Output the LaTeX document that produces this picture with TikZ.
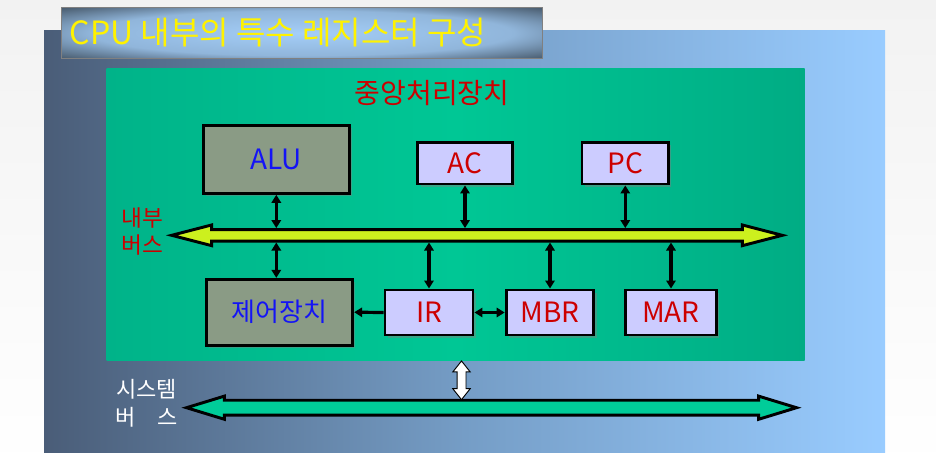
\documentclass[tikz,border=0pt]{standalone}
\usepackage{fontspec}
\setmainfont{Noto Sans CJK KR}
\usetikzlibrary{arrows.meta,shapes.arrows,shadows}
\definecolor{pagegray}{HTML}{F2F2F2}
\definecolor{backdark}{HTML}{4A5D78}
\definecolor{backmid}{HTML}{759DC6}
\definecolor{backlight}{HTML}{99CCFF}
\definecolor{glow}{HTML}{A4CEF8}
\definecolor{cpuleft}{HTML}{00B389}
\definecolor{cpumid}{HTML}{00C795}
\definecolor{cpuright}{HTML}{00AC84}
\definecolor{unitgray}{HTML}{8A9B85}
\definecolor{reglav}{HTML}{CCCCFF}
\definecolor{regred}{HTML}{CC0000}
\definecolor{unitblue}{HTML}{1414F5}
\definecolor{buslime}{HTML}{CCF01E}
\definecolor{busgreen}{HTML}{00CC99}
\pgfdeclareradialshading{titleglow}{\pgfpoint{0bp}{0bp}}{color(0bp)=(glow); color(22bp)=(glow!88!black); color(38bp)=(glow!35!black); color(47bp)=(black); color(50bp)=(black)}

\begin{document}
\begin{tikzpicture}[x=0.75pt,y=-0.75pt,>={Triangle[length=6pt,width=7pt]}]
\tikzstyle{unit}=[draw=black, line width=2.2pt, fill=unitgray, text=unitblue, inner sep=0,
  drop shadow={opacity=0.45, shadow xshift=2pt, shadow yshift=-2pt}]
\tikzstyle{reg}=[draw=black, line width=2.2pt, fill=reglav, text=regred, inner sep=0,
  font=\fontsize{21}{24}\selectfont,
  drop shadow={opacity=0.45, shadow xshift=2pt, shadow yshift=-2pt}]
\tikzstyle{bus}=[double arrow, draw=black, line width=2.2pt, inner sep=0, minimum width=0pt,
  text depth=0pt]
\tikzstyle{link}=[line width=2.4pt]

% Page
\fill [top color=pagegray, bottom color=white] (0,0) rectangle (936,469);
\useasboundingbox (0,0) rectangle (936,469);

% Backdrop
\node (back) at (464.5,241.85) [minimum width=630.75pt, minimum height=316.3pt, inner sep=0,
  left color=backdark, right color=backlight, middle color=backmid] {};

% Title
\node (title) at (302.2,33) [minimum width=360.75pt, minimum height=38.5pt, inner sep=0,
  shading=titleglow, draw=gray, line width=0.8pt] {};
\node (titletext) at (278,33) [text=yellow, font=\fontsize{24}{28}\selectfont] {CPU 내부의 특수 레지스터 구성};

% CPU
\node (cpu) at (455.7,214.85) [minimum width=523.5pt, minimum height=218.8pt, inner sep=0,
  left color=cpuleft, right color=cpuright, middle color=cpumid] {};
\node (cpuname) at (432,93) [text=regred, font=\fontsize{21}{24}\selectfont] {중앙처리장치};

% Units
\node (alu) at (276.3,159.5) [unit, minimum width=109.5pt, minimum height=50.7pt,
  font=\fontsize{21}{24}\selectfont] {ALU};
\node (cu) at (279.7,312.2) [unit, minimum width=109.5pt, minimum height=49.3pt,
  font=\fontsize{19.5}{24}\selectfont] {제어장치};

% Registers
\node (ac) at (465,163.3) [reg, minimum width=70.7pt, minimum height=31pt] {AC};
\node (pc) at (625.3,163.3) [reg, minimum width=65pt, minimum height=31pt] {PC};
\node (ir) at (429,312.5) [reg, minimum width=66pt, minimum height=33.75pt] {IR};
\node (mbr) at (550,312.5) [reg, minimum width=65.8pt, minimum height=33.75pt] {MBR};
\node (mar) at (671,312.5) [reg, minimum width=67.7pt, minimum height=33.75pt] {MAR};

% Buses
\node (ibus) at (477,235.3) [bus, fill=buslime, minimum height=458pt, text height=6.4pt,
  double arrow head extend=3.45pt, double arrow tip angle=29] {};
\node (sbus) at (491.5,407.7) [bus, fill=busgreen, minimum height=457.5pt, text height=9pt,
  double arrow head extend=3.1pt, double arrow tip angle=34] {};
\node (syslink) at (461.5,380.3) [double arrow, rotate=90, draw=black, line width=0.7pt, fill=white,
  inner sep=0, minimum width=0pt, text height=6pt, text depth=0pt, minimum height=29pt,
  double arrow head extend=3.2pt, double arrow tip angle=77] {};

% Text
\node (ibuslabel) at (142.8,231.7) [text=regred, align=center, font=\fontsize{17}{20}\selectfont] {내부\\버스};
\node (sbuslabel) at (146.5,403) [text=white, align=center, font=\fontsize{16.5}{21}\selectfont] {시스템\\버\hspace{1em}스};

% Upper links
\draw [link,<->] (alu.south) -- (alu.south |- ibus.north);
\draw [link,<->] (ac.south) -- (ac.south |- ibus.north);
\draw [link,<->] (pc.south) -- (pc.south |- ibus.north);

% Lower links
\draw [link,<->] (alu.south |- cu.north) -- (alu.south |- ibus.south);
\foreach \r in {ir,mbr,mar}
\draw [link,<->] (\r.north) -- (\r.north |- ibus.south);
\draw [link,->] (ir.west) -- (cu.east);
\draw [link,<->] (ir.east) -- (mbr.west);
\end{tikzpicture}
\end{document}
